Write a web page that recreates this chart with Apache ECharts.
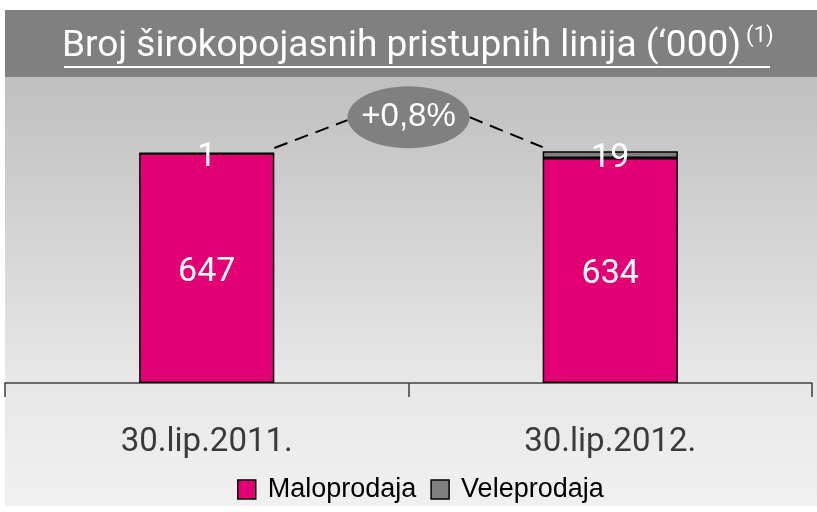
<!DOCTYPE html>
<html>
<head>
<meta charset="utf-8">
<script src="https://cdn.jsdelivr.net/npm/echarts@6/dist/echarts.min.js"></script>
<style>
  html, body { margin: 0; padding: 0; background: #fff; }
  #chart { width: 817px; height: 512px; }
</style>
</head>
<body>
<div id="chart"></div>
<script>
  // podaci
  const categories = ['30.lip.2011.', '30.lip.2012.']
  const maloprodaja = [647, 634]
  const veleprodaja = [1, 19]
  const growthText = '+0,8%'

  const cond = 'Roboto, "Liberation Sans", sans-serif'
  const sans = '"Liberation Sans", Arial, sans-serif'

  let chart = echarts.init(document.getElementById('chart'))

  let option = {
    animation: false,
    backgroundColor: '#fff',
    title: {
      text: '{a|Broj širokopojasnih pristupnih linija (‘000)} {b|(1)}',
      left: 62,
      top: 25,
      padding: 0,
      textStyle: {
        rich: {
          a: { fontFamily: cond, fontSize: 37, fontWeight: 'normal', color: '#fff', lineHeight: 44 },
          b: { fontFamily: cond, fontSize: 22, fontWeight: 'normal', color: '#fff', verticalAlign: 'top', lineHeight: 44, padding: [0, 0, 16, 0] }
        }
      }
    },
    legend: {
      data: ['Maloprodaja', 'Veleprodaja'],
      bottom: 4,
      left: 232,
      icon: 'rect',
      itemWidth: 18,
      itemHeight: 19,
      itemGap: 14,
      itemStyle: { borderColor: '#000', borderWidth: 1.5 },
      textStyle: { fontFamily: sans, fontSize: 27, color: '#000', padding: [0, 0, 0, 7] }
    },
    grid: { left: 5, right: 5, top: 99, bottom: 129 },
    xAxis: {
      type: 'category',
      data: categories,
      axisLine: { lineStyle: { color: '#404040', width: 1.5 } },
      axisTick: { show: true, length: 14, lineStyle: { color: '#404040', width: 1.5 } },
      axisLabel: { margin: 43, fontFamily: cond, fontSize: 33, color: '#3a3a3a' }
    },
    yAxis: {
      type: 'value',
      min: 0,
      max: 800,
      show: false,
      splitLine: { show: false }
    },
    series: [
      {
        name: 'Maloprodaja',
        type: 'bar',
        stack: 'ukupno',
        barWidth: '33.5%',
        data: maloprodaja,
        itemStyle: { color: '#e20074', borderColor: '#000', borderWidth: 1.5 },
        label: { show: true, position: 'inside', offset: [0, 4], color: '#fff', fontFamily: cond, fontSize: 34 }
      },
      {
        name: 'Veleprodaja',
        type: 'bar',
        stack: 'ukupno',
        data: veleprodaja,
        itemStyle: { color: '#808080', borderColor: '#000', borderWidth: 1.5 },
        label: { show: true, position: 'inside', offset: [0, 4], color: '#fff', fontFamily: cond, fontSize: 34 }
      }
    ]
  }

  chart.setOption(option)

  // pozadina, podcrtani naslov i oblacic s postotkom
  let totals = maloprodaja.map((v, i) => v + veleprodaja[i])
  let p0 = chart.convertToPixel({ gridIndex: 0 }, [0, totals[0]])
  let p1 = chart.convertToPixel({ gridIndex: 0 }, [1, totals[1]])
  let half = (p1[0] - p0[0]) * 0.335 / 2
  let cx = (p0[0] + p1[0]) / 2
  let cy = Math.min(p0[1], p1[1]) - 34
  let rx = 61
  let ry = 31

  chart.setOption({
    graphic: [
      {
        type: 'rect', z: -10, silent: true,
        shape: { x: 5, y: 10, width: 812, height: 67 },
        style: { fill: '#808080' }
      },
      {
        type: 'rect', z: -10, silent: true,
        shape: { x: 5, y: 77, width: 812, height: 429 },
        style: {
          fill: new echarts.graphic.LinearGradient(0, 0, 0, 1, [
            { offset: 0, color: '#bfbfbf' },
            { offset: 0.7, color: '#e7e7e7' },
            { offset: 1, color: '#f0f0f0' }
          ])
        }
      },
      {
        type: 'line', silent: true,
        shape: { x1: 64, y1: 67, x2: 770, y2: 67 },
        style: { stroke: '#fff', lineWidth: 2 }
      },
      {
        type: 'line', silent: true, z: 5,
        shape: { x1: p0[0] + half, y1: p0[1] - 5, x2: cx - rx, y2: cy + 3 },
        style: { stroke: '#000', lineWidth: 2, lineDash: [14, 8] }
      },
      {
        type: 'line', silent: true, z: 5,
        shape: { x1: cx + rx, y1: cy, x2: p1[0] - half, y2: p1[1] - 4 },
        style: { stroke: '#000', lineWidth: 2, lineDash: [14, 8] }
      },
      {
        type: 'ellipse', silent: true, z: 6,
        shape: { cx: cx, cy: cy, rx: rx, ry: ry },
        style: { fill: '#808080' }
      },
      {
        type: 'text', silent: true, z: 7,
        x: cx, y: cy,
        style: {
          text: growthText, fill: '#fff', font: '33px ' + sans,
          align: 'center', verticalAlign: 'middle'
        }
      }
    ]
  })
</script>
</body>
</html>
